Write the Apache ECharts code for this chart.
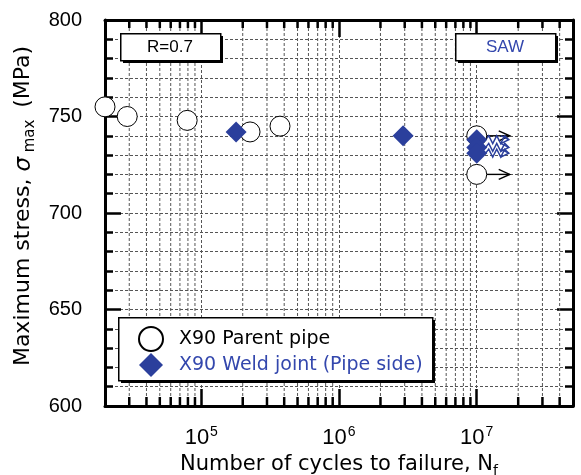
<!DOCTYPE html>
<html>
<head>
<meta charset="utf-8">
<script src="https://cdn.jsdelivr.net/npm/echarts@6/dist/echarts.min.js"></script>
<style>
  html, body { margin: 0; padding: 0; background: #fff; }
  #chart { width: 581px; height: 475px; }
</style>
</head>
<body>
<div id="chart"></div>
<script>
// S-N data, X90 pipe, R=0.7 (SAW)
const parentN = [2.0e4, 2.9e4, 7.9e4, 2.26e5, 3.73e5, 1e7, 1e7]
const parentS = [755, 750, 748, 742, 745, 740, 720]
const weldN = [1.79e5, 2.92e6, 1e7, 1e7, 1e7]
const weldS = [742, 740, 738, 734, 731]
// run-outs, drawn with arrows
const parentRunN = [1e7, 1e7]
const parentRunS = [740, 720]
const weldRunN = [1e7, 1e7, 1e7]
const weldRunS = [738, 734, 731]
// axes
const xRange = [2e4, 5e7]
const xMinorTicks = [3e4, 4e4, 5e4, 6e4, 7e4, 8e4, 9e4,
  2e5, 3e5, 4e5, 5e5, 6e5, 7e5, 8e5, 9e5,
  2e6, 3e6, 4e6, 5e6, 6e6, 7e6, 8e6, 9e6,
  2e7, 3e7, 4e7]
const yTicks = [600, 650, 700, 750, 800]

const BLUE = '#2b3f9c'
const TXTBLUE = '#3347ad'

const chart = echarts.init(document.getElementById('chart'))

function zip(a, b) {
  return a.map((v, i) => [v, b[i]])
}

// minor x ticks + vertical dashed grid (log axis)
function renderMinor(params, api) {
  const v = api.value(0)
  const b = api.coord([v, yTicks[0]])
  const t = api.coord([v, yTicks[yTicks.length - 1]])
  return {
    type: 'group',
    children: [
      { type: 'line', shape: { x1: b[0], y1: b[1], x2: t[0], y2: t[1] }, style: { stroke: '#555', lineWidth: 1, lineDash: [3, 2] } },
      { type: 'line', shape: { x1: b[0], y1: b[1], x2: b[0], y2: b[1] - 9 }, style: { stroke: '#000', lineWidth: 2.5 } },
      { type: 'line', shape: { x1: t[0], y1: t[1], x2: t[0], y2: t[1] + 8 }, style: { stroke: '#000', lineWidth: 2.5 } }
    ]
  }
}

function renderParentRun(params, api) {
  const p = api.coord([api.value(0), api.value(1)])
  const x0 = p[0] + 10, x1 = p[0] + 33, y = p[1]
  return {
    type: 'group',
    children: [
      { type: 'line', shape: { x1: x0, y1: y, x2: x1, y2: y }, style: { stroke: '#000', lineWidth: 1.4 } },
      { type: 'polyline', shape: { points: [[x1 - 11, y - 5], [x1, y], [x1 - 11, y + 5]] }, style: { stroke: '#000', fill: null, lineWidth: 1.4 } }
    ]
  }
}

function renderWeldRun(params, api) {
  const p = api.coord([api.value(0), api.value(1)])
  const y = p[1]
  const pts = [[p[0] + 9, y]]
  let x = p[0] + 12
  for (let k = 0; k < 5; k++) {
    pts.push([x, y + (k % 2 === 0 ? -4 : 4)])
    x += 4
  }
  const xe = p[0] + 32
  pts.push([xe, y])
  return {
    type: 'group',
    children: [
      { type: 'polyline', shape: { points: pts }, style: { stroke: BLUE, fill: null, lineWidth: 1.5 } },
      { type: 'polyline', shape: { points: [[xe - 8, y - 4], [xe, y], [xe - 8, y + 4]] }, style: { stroke: BLUE, fill: null, lineWidth: 1.5 } }
    ]
  }
}

const xLabel = {
  show: true,
  margin: 19,
  formatter: function (v) {
    const e = Math.round(Math.log10(v))
    if (Math.abs(Math.log10(v) - e) > 1e-6) return ''
    return '{b|10}{s|' + e + '}'
  },
  rich: {
    b: { fontFamily: 'Liberation Sans', fontSize: 22, lineHeight: 26, color: '#000' },
    s: { fontFamily: 'Liberation Sans', fontSize: 14, lineHeight: 26, verticalAlign: 'top', color: '#000', padding: [0, 0, 0, 1] }
  }
}

// box with a solid offset shadow (black rect behind white rect)
function box(left, top, w, h) {
  return [
    { type: 'rect', left: left + 3, top: top + 3, z: 3, silent: true, shape: { width: w, height: h }, style: { fill: '#000' } },
    { type: 'rect', left: left, top: top, z: 3, silent: true, shape: { width: w, height: h }, style: { fill: '#fff', stroke: '#000', lineWidth: 1.5 } }
  ]
}

chart.setOption({
  animation: false,
  backgroundColor: '#fff',
  grid: { left: 105, right: 8, top: 20, bottom: 69, outerBoundsMode: 'none' },
  legend: {
    orient: 'vertical',
    left: 118,
    top: 317,
    padding: [9, 12, 8, 20],
    itemWidth: 24,
    itemHeight: 24,
    itemGap: 1,
    textStyle: { fontFamily: 'DejaVu Sans', fontSize: 19, padding: [0, 0, 0, 11] },
    data: [
      { name: 'X90 Parent pipe', textStyle: { color: '#000' } },
      { name: 'X90 Weld joint (Pipe side)', textStyle: { color: TXTBLUE } }
    ]
  },
  xAxis: [
    {
      type: 'log',
      logBase: 10,
      min: xRange[0],
      max: xRange[1],
      position: 'bottom',
      axisLine: { show: true, lineStyle: { color: '#000', width: 3 } },
      axisTick: { show: true, inside: true, length: 17, lineStyle: { color: '#000', width: 2.5 } },
      splitLine: { show: true, lineStyle: { color: '#555', width: 1, type: [3, 2] } },
      minorTick: { show: false },
      axisLabel: xLabel,
      name: 'Number of cycles to failure, N{sub|f}',
      nameLocation: 'middle',
      nameGap: 40,
      nameTextStyle: {
        fontFamily: 'DejaVu Sans',
        fontSize: 21,
        color: '#000',
        rich: { sub: { fontFamily: 'DejaVu Sans', fontSize: 14, verticalAlign: 'bottom', lineHeight: 28, color: '#000' } }
      }
    },
    {
      type: 'log',
      logBase: 10,
      min: xRange[0],
      max: xRange[1],
      position: 'top',
      axisLine: { show: true, lineStyle: { color: '#000', width: 3 } },
      axisTick: { show: true, inside: true, length: 17, lineStyle: { color: '#000', width: 2.5 } },
      splitLine: { show: false },
      axisLabel: { show: false }
    }
  ],
  yAxis: [
    {
      type: 'value',
      min: yTicks[0],
      max: yTicks[yTicks.length - 1],
      interval: 50,
      position: 'left',
      axisLine: { show: true, lineStyle: { color: '#000', width: 3 } },
      axisTick: { show: true, inside: true, length: 16, lineStyle: { color: '#000', width: 2.5 } },
      minorTick: { show: true, splitNumber: 5, length: 8, lineStyle: { color: '#000', width: 2.5 } },
      splitLine: { show: true, lineStyle: { color: '#555', width: 1, type: [3, 2] } },
      minorSplitLine: { show: true, lineStyle: { color: '#555', width: 1, type: [3, 2] } },
      axisLabel: { margin: 23, fontFamily: 'Liberation Sans', fontSize: 20, color: '#000' },
      name: 'Maximum stress, {i|σ}{sub| max } (MPa)',
      nameLocation: 'middle',
      nameRotate: 90,
      nameGap: 62,
      nameTextStyle: {
        fontFamily: 'DejaVu Sans',
        fontSize: 22,
        color: '#000',
        padding: [0, 0, 0, 14],
        rich: {
          i: { fontFamily: 'DejaVu Sans', fontSize: 23, fontStyle: 'italic', color: '#000', lineHeight: 28 },
          sub: { fontFamily: 'DejaVu Sans', fontSize: 15, verticalAlign: 'bottom', color: '#000', lineHeight: 28 }
        }
      }
    },
    {
      type: 'value',
      min: yTicks[0],
      max: yTicks[yTicks.length - 1],
      interval: 50,
      position: 'right',
      axisLine: { show: true, lineStyle: { color: '#000', width: 3 } },
      axisTick: { show: true, inside: true, length: 16, lineStyle: { color: '#000', width: 2.5 } },
      minorTick: { show: true, splitNumber: 5, length: 8, lineStyle: { color: '#000', width: 2.5 } },
      splitLine: { show: false },
      axisLabel: { show: false }
    }
  ],
  graphic: [].concat(
    box(120, 33, 100, 27),
    box(455, 33, 100, 27),
    box(118, 317, 314, 63),
    [
      { type: 'text', x: 170, y: 47, z: 4, silent: true, style: { text: 'R=0.7', align: 'center', verticalAlign: 'middle', fontFamily: 'Liberation Sans', fontSize: 17, fill: '#000' } },
      { type: 'text', x: 505, y: 47, z: 4, silent: true, style: { text: 'SAW', align: 'center', verticalAlign: 'middle', fontFamily: 'Liberation Sans', fontSize: 17, fill: TXTBLUE } }
    ]
  ),
  series: [
    {
      type: 'custom',
      name: 'minor',
      silent: true,
      z: 1,
      renderItem: renderMinor,
      data: xMinorTicks.map(v => [v, yTicks[0]])
    },
    {
      type: 'custom',
      name: 'parentRun',
      silent: true,
      z: 2,
      renderItem: renderParentRun,
      data: zip(parentRunN, parentRunS)
    },
    {
      type: 'custom',
      name: 'weldRun',
      silent: true,
      z: 2,
      renderItem: renderWeldRun,
      data: zip(weldRunN, weldRunS)
    },
    {
      type: 'scatter',
      name: 'X90 Parent pipe',
      clip: false,
      z: 2,
      symbol: 'circle',
      symbolSize: 20,
      itemStyle: { color: '#fff', borderColor: '#000', borderWidth: 1, opacity: 1 },
      data: zip(parentN, parentS)
    },
    {
      type: 'scatter',
      name: 'X90 Weld joint (Pipe side)',
      clip: false,
      z: 2,
      symbol: 'diamond',
      symbolSize: 21,
      itemStyle: { color: BLUE, opacity: 1 },
      data: zip(weldN, weldS)
    }
  ]
})
</script>
</body>
</html>
